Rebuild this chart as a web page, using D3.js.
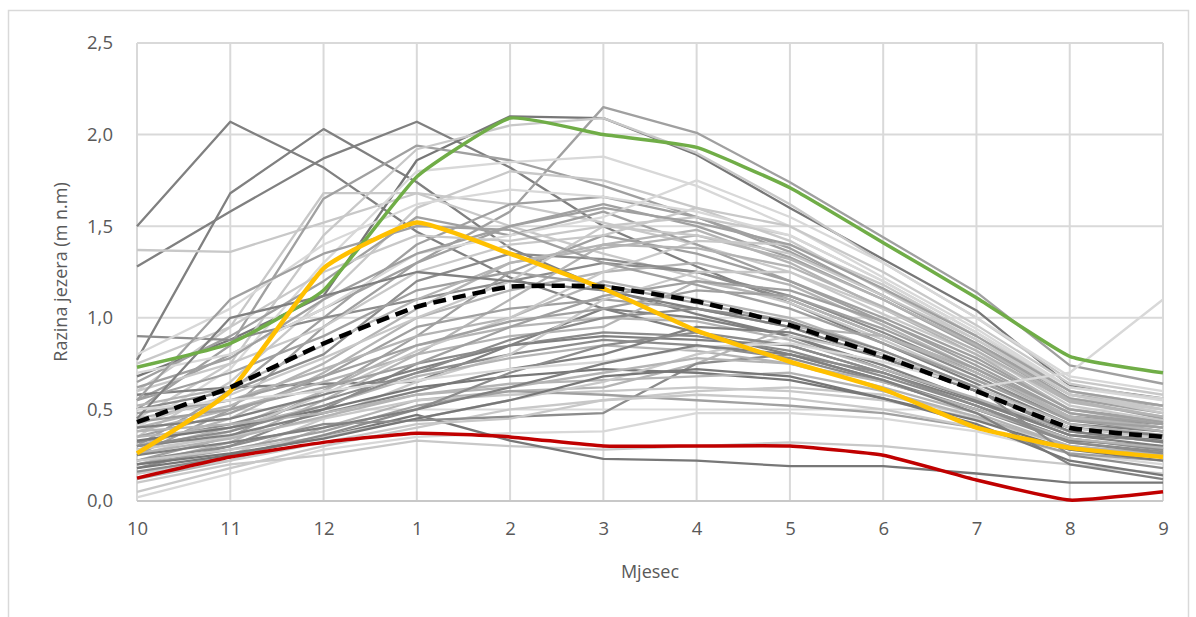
<!DOCTYPE html>
<html>
<head>
<meta charset="utf-8">
<script src="https://cdn.jsdelivr.net/npm/d3@7"></script>
<style>
  body { margin: 0; background: #fff; }
  svg text { font-family: "Open Sans", "Noto Sans", sans-serif; fill: #595959; }
</style>
</head>
<body>
<svg id="chart" width="1196" height="617"></svg>
<script>
// months of the hydrological year
var months = ['10', '11', '12', '1', '2', '3', '4', '5', '6', '7', '8', '9'];
var yTicks = [0, 0.5, 1, 1.5, 2, 2.5];

// single years (grey)
var years = [
  [1.50, 2.07, 1.82, 1.47, 1.22, 1.05, 0.92, 0.80, 0.66, 0.50, 0.33, 0.30],
  [1.28, 1.58, 1.87, 2.07, 1.82, 1.50, 1.28, 1.08, 0.86, 0.64, 0.42, 0.38],
  [0.77, 1.68, 2.03, 1.74, 1.38, 1.16, 1.02, 0.90, 0.72, 0.55, 0.36, 0.33],
  [0.68, 0.88, 1.12, 1.86, 2.10, 2.09, 1.89, 1.60, 1.32, 1.04, 0.63, 0.56],
  [0.55, 0.80, 1.05, 1.30, 1.58, 2.15, 2.01, 1.74, 1.44, 1.14, 0.74, 0.64],
  [1.37, 1.36, 1.52, 1.68, 1.62, 1.52, 1.40, 1.25, 1.02, 0.80, 0.56, 0.50],
  [0.60, 0.95, 1.68, 1.68, 1.50, 1.35, 1.22, 1.08, 0.88, 0.66, 0.45, 0.40],
  [0.50, 0.85, 1.65, 1.94, 1.86, 1.72, 1.55, 1.36, 1.12, 0.86, 0.58, 0.52],
  [0.45, 0.75, 1.45, 1.92, 2.05, 2.09, 1.90, 1.62, 1.30, 1.00, 0.66, 0.58],
  [0.40, 0.72, 1.30, 1.80, 1.85, 1.88, 1.72, 1.50, 1.22, 0.94, 0.62, 0.56],
  [0.35, 0.65, 1.10, 1.60, 1.80, 1.75, 1.60, 1.42, 1.15, 0.88, 0.60, 0.52],
  [0.30, 0.60, 1.00, 1.40, 1.62, 1.66, 1.55, 1.38, 1.12, 0.86, 0.56, 0.48],
  [0.25, 0.50, 0.95, 1.30, 1.50, 1.62, 1.50, 1.33, 1.10, 0.84, 0.55, 0.45],
  [0.65, 0.90, 1.20, 1.55, 1.45, 1.58, 1.40, 1.20, 1.00, 0.78, 0.50, 0.44],
  [0.90, 0.88, 1.00, 1.10, 1.20, 1.30, 1.25, 1.12, 0.92, 0.70, 0.46, 0.42],
  [0.58, 0.62, 0.64, 0.65, 0.85, 1.05, 1.00, 0.90, 0.74, 0.55, 0.38, 0.33],
  [0.20, 0.32, 0.55, 0.80, 1.10, 1.40, 1.48, 1.30, 1.05, 0.80, 0.50, 0.42],
  [0.22, 0.35, 0.60, 0.90, 1.25, 1.45, 1.35, 1.20, 0.98, 0.74, 0.48, 0.40],
  [0.30, 0.45, 0.70, 1.00, 1.15, 1.25, 1.30, 1.18, 0.96, 0.72, 0.46, 0.38],
  [0.40, 0.52, 0.75, 1.05, 1.30, 1.38, 1.45, 1.32, 1.10, 0.85, 0.55, 0.46],
  [0.50, 0.60, 0.80, 1.20, 1.35, 1.32, 1.25, 1.10, 0.90, 0.68, 0.44, 0.38],
  [0.35, 0.48, 0.68, 0.95, 1.05, 1.10, 1.05, 0.95, 0.78, 0.60, 0.40, 0.35],
  [0.28, 0.40, 0.60, 0.85, 0.95, 1.00, 0.98, 0.88, 0.72, 0.56, 0.38, 0.32],
  [0.18, 0.30, 0.50, 0.75, 0.85, 0.92, 0.90, 0.82, 0.68, 0.52, 0.34, 0.28],
  [0.45, 0.55, 0.72, 0.90, 1.00, 1.20, 1.10, 1.00, 0.82, 0.62, 0.42, 0.36],
  [0.55, 0.70, 0.90, 1.15, 1.25, 1.18, 1.08, 0.98, 0.80, 0.60, 0.40, 0.35],
  [0.32, 0.42, 0.55, 0.70, 0.80, 0.88, 0.85, 0.78, 0.65, 0.50, 0.32, 0.27],
  [0.38, 0.50, 0.65, 0.80, 0.90, 0.95, 1.20, 1.10, 0.90, 0.70, 0.45, 0.38],
  [0.42, 0.58, 0.78, 1.00, 1.20, 1.50, 1.55, 1.45, 1.20, 0.92, 0.60, 0.50],
  [0.60, 0.75, 0.95, 1.25, 1.40, 1.45, 1.60, 1.50, 1.25, 0.96, 0.64, 0.55],
  [0.70, 0.80, 1.05, 1.35, 1.45, 1.55, 1.75, 1.55, 1.30, 1.00, 0.68, 0.60],
  [0.25, 0.38, 0.58, 0.82, 1.00, 1.25, 1.42, 1.40, 1.18, 0.90, 0.58, 0.48],
  [0.15, 0.25, 0.45, 0.65, 0.80, 1.10, 1.25, 1.25, 1.05, 0.82, 0.52, 0.44],
  [0.12, 0.22, 0.40, 0.55, 0.60, 0.62, 0.75, 0.95, 0.90, 0.72, 0.46, 0.40],
  [0.05, 0.18, 0.30, 0.40, 0.50, 0.55, 0.60, 0.62, 0.58, 0.46, 0.30, 0.25],
  [0.02, 0.15, 0.28, 0.35, 0.37, 0.38, 0.48, 0.48, 0.45, 0.38, 0.26, 0.20],
  [0.10, 0.20, 0.25, 0.33, 0.30, 0.28, 0.30, 0.32, 0.30, 0.25, 0.20, 0.15],
  [0.18, 0.25, 0.35, 0.47, 0.33, 0.23, 0.22, 0.19, 0.19, 0.15, 0.10, 0.10],
  [0.22, 0.30, 0.42, 0.44, 0.46, 0.48, 0.75, 0.80, 0.70, 0.52, 0.34, 0.28],
  [0.28, 0.35, 0.45, 0.55, 0.58, 0.60, 0.62, 0.60, 0.55, 0.45, 0.30, 0.26],
  [0.20, 0.28, 0.38, 0.52, 0.60, 0.58, 0.55, 0.52, 0.48, 0.40, 0.26, 0.22],
  [0.15, 0.22, 0.32, 0.42, 0.45, 0.55, 0.58, 0.56, 0.50, 0.40, 0.28, 0.24],
  [0.35, 0.40, 0.52, 0.68, 0.78, 0.85, 0.82, 0.75, 0.62, 0.48, 0.30, 0.25],
  [0.30, 0.36, 0.48, 0.60, 0.72, 0.80, 0.95, 0.92, 0.78, 0.60, 0.38, 0.32],
  [0.40, 0.45, 0.58, 0.72, 0.85, 0.90, 0.88, 0.85, 0.70, 0.54, 0.36, 0.30],
  [0.33, 0.40, 0.50, 0.62, 0.68, 0.72, 0.70, 0.66, 0.56, 0.44, 0.28, 0.22],
  [0.26, 0.34, 0.46, 0.58, 0.64, 0.66, 0.68, 0.70, 0.60, 0.46, 0.30, 0.25],
  [0.48, 0.55, 0.68, 0.85, 0.98, 1.05, 1.15, 1.12, 0.94, 0.72, 0.48, 0.42],
  [0.52, 0.62, 0.85, 1.10, 1.30, 1.40, 1.38, 1.28, 1.06, 0.82, 0.54, 0.46],
  [0.62, 0.78, 1.10, 1.35, 1.50, 1.60, 1.52, 1.40, 1.16, 0.90, 0.60, 0.52],
  [0.75, 0.95, 1.25, 1.45, 1.42, 1.50, 1.45, 1.35, 1.12, 0.88, 0.58, 0.50],
  [0.80, 1.05, 1.40, 1.62, 1.70, 1.66, 1.58, 1.45, 1.20, 0.92, 0.62, 0.55],
  [0.55, 1.10, 1.35, 1.50, 1.48, 1.30, 1.18, 1.05, 0.86, 0.66, 0.44, 0.40],
  [0.45, 1.00, 1.12, 1.25, 1.20, 1.15, 1.05, 0.95, 0.78, 0.60, 0.40, 0.36],
  [0.22, 0.28, 0.35, 0.45, 0.55, 0.65, 0.80, 0.90, 0.80, 0.62, 0.40, 0.34],
  [0.38, 0.42, 0.48, 0.58, 0.62, 0.70, 0.78, 0.75, 0.65, 0.50, 0.34, 0.29],
  [0.16, 0.24, 0.36, 0.50, 0.70, 0.85, 0.92, 0.85, 0.70, 0.52, 0.32, 0.26],
  [0.43, 0.50, 0.62, 0.75, 0.95, 1.12, 1.20, 1.15, 0.98, 0.76, 0.50, 0.43],
  [0.50, 0.55, 0.60, 0.66, 0.72, 0.76, 0.84, 0.86, 0.76, 0.62, 0.70, 1.10],
  [0.25, 0.32, 0.40, 0.50, 0.62, 0.75, 0.85, 0.80, 0.66, 0.48, 0.20, 0.12],
  [0.20, 0.26, 0.34, 0.45, 0.55, 0.68, 0.72, 0.68, 0.56, 0.42, 0.22, 0.14],
  [0.30, 0.38, 0.52, 0.70, 0.88, 1.00, 1.05, 0.98, 0.82, 0.62, 0.25, 0.18]
];

// highlighted series
var maxYear  = [0.73, 0.86, 1.15, 1.77, 2.09, 2.00, 1.93, 1.71, 1.41, 1.11, 0.79, 0.70];
var yellowYear = [0.26, 0.60, 1.27, 1.52, 1.35, 1.16, 0.93, 0.76, 0.61, 0.40, 0.29, 0.24];
var minYear  = [0.125, 0.24, 0.32, 0.37, 0.35, 0.30, 0.30, 0.30, 0.25, 0.115, 0.005, 0.05];
var meanYear = [0.43, 0.62, 0.86, 1.06, 1.17, 1.17, 1.09, 0.96, 0.79, 0.60, 0.40, 0.35];

var greys = ['#777777', '#808080', '#8c8c8c', '#a0a0a0', '#b4b4b4', '#c8c8c8', '#d8d8d8'];
// shade index per grey line
var shadeOf = [1, 1, 1, 0, 3, 5, 5, 3, 5, 6, 5, 3, 3, 3, 2, 1,
  4, 3, 4, 4, 2, 3, 4, 2, 4, 3, 2, 4, 5, 5, 6, 5, 5, 4, 5, 6,
  5, 0, 2, 5, 3, 5, 4, 1, 1, 0, 4, 3, 4, 3, 5, 6, 3, 1, 5, 4, 2, 3, 6, 1, 0, 2];

var svg = d3.select('#chart');
var margin = {left: 137, right: 33, top: 43, bottom: 116};
var width = 1196 - margin.left - margin.right;
var height = 617 - margin.top - margin.bottom;

// outer frame
svg.append('rect')
  .attr('x', 8.5).attr('y', 10.5)
  .attr('width', 1180).attr('height', 640)
  .attr('fill', 'none')
  .attr('stroke', '#d9d9d9')
  .attr('stroke-width', 1.5);

var x = d3.scalePoint().domain(months).range([0, width]);
var y = d3.scaleLinear().domain([0, 2.5]).range([height, 0]);

var g = svg.append('g').attr('transform', 'translate(' + margin.left + ',' + margin.top + ')');

// grid
g.selectAll('line.hgrid').data(yTicks).enter().append('line')
  .attr('class', 'hgrid')
  .attr('x1', 0).attr('x2', width)
  .attr('y1', function(d) { return y(d); }).attr('y2', function(d) { return y(d); })
  .attr('stroke', '#d9d9d9').attr('stroke-width', 2);

g.selectAll('line.vgrid').data(months).enter().append('line')
  .attr('class', 'vgrid')
  .attr('x1', function(d) { return x(d); }).attr('x2', function(d) { return x(d); })
  .attr('y1', 0).attr('y2', height)
  .attr('stroke', '#d9d9d9').attr('stroke-width', 2);

g.append('line')
  .attr('x1', 0).attr('x2', width).attr('y1', height).attr('y2', height)
  .attr('stroke', '#c8c8c8').attr('stroke-width', 2);

// axes (labels only)
var yAxis = g.append('g')
  .call(d3.axisLeft(y).tickValues(yTicks).tickSize(0).tickPadding(24)
    .tickFormat(function(d) { return d3.format('.1f')(d).replace('.', ','); }));
yAxis.select('.domain').remove();
yAxis.selectAll('text').style('font-size', '18.5px').attr('fill', '#595959');

var xAxis = g.append('g')
  .attr('transform', 'translate(0,' + height + ')')
  .call(d3.axisBottom(x).tickSize(0).tickPadding(21));
xAxis.select('.domain').remove();
xAxis.selectAll('text').style('font-size', '18.5px').attr('fill', '#595959');

// axis titles
svg.append('text')
  .attr('x', margin.left + width / 2).attr('y', 578)
  .attr('text-anchor', 'middle')
  .style('font-size', '18px')
  .text('Mjesec');

svg.append('text')
  .attr('transform', 'translate(67,' + (margin.top + height / 2) + ') rotate(-90)')
  .attr('text-anchor', 'middle')
  .style('font-size', '18px')
  .text('Razina jezera (m n.m)');

var line = d3.line()
  .x(function(d, i) { return x(months[i]); })
  .y(function(d) { return y(d); });

var smooth = d3.line()
  .x(function(d, i) { return x(months[i]); })
  .y(function(d) { return y(d); })
  .curve(d3.curveCardinal.tension(0.6));

g.selectAll('path.year').data(years).enter().append('path')
  .attr('class', 'year')
  .attr('d', line)
  .attr('fill', 'none')
  .attr('stroke', function(d, i) { return greys[shadeOf[i % shadeOf.length]]; })
  .attr('stroke-width', 2.3)
  .attr('stroke-linejoin', 'round');

g.append('path').datum(minYear)
  .attr('d', smooth).attr('fill', 'none')
  .attr('stroke', '#c00000').attr('stroke-width', 3.5);

g.append('path').datum(maxYear)
  .attr('d', smooth).attr('fill', 'none')
  .attr('stroke', '#70ad47').attr('stroke-width', 3.5);

g.append('path').datum(yellowYear)
  .attr('d', smooth).attr('fill', 'none')
  .attr('stroke', '#ffc000').attr('stroke-width', 4.5);

g.append('path').datum(meanYear)
  .attr('d', smooth).attr('fill', 'none')
  .attr('stroke', '#000').attr('stroke-width', 4.5)
  .attr('stroke-dasharray', '13,7');
</script>
</body>
</html>
